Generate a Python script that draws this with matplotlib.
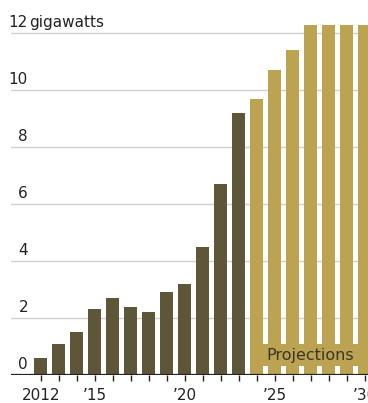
import matplotlib
matplotlib.use('Agg')
import numpy as np
import matplotlib.pyplot as plt
import matplotlib.transforms as mtransforms

plt.rcParams['font.family'] = ['Liberation Sans Narrow', 'DejaVu Sans']

# data
actual_years = [2012, 2013, 2014, 2015, 2016, 2017, 2018, 2019, 2020, 2021, 2022, 2023]
actual_vals = [0.6, 1.1, 1.5, 2.3, 2.7, 2.4, 2.2, 2.9, 3.2, 4.5, 6.7, 9.2]
proj_years = [2024, 2025, 2026, 2027, 2028, 2029, 2030]
proj_vals = [9.7, 10.7, 11.4, 12.3, 12.3, 12.3, 12.3]
y_ticks = [0, 2, 4, 6, 8, 10, 12]
x_ticks = [2012, 2015, 2020, 2025, 2030]
x_labels = ['2012', '\u201915', '\u201920', '\u201925', '\u201930']

dark = '#5e5639'
gold = '#bba352'

fig = plt.figure(figsize=(3.68, 4.03), dpi=100, facecolor='white')
ax = fig.add_axes([11 / 368, 28 / 403, 357 / 368, 375 / 403])
ax.set_xlim(2010.35, 2030.18)
ax.set_ylim(0, 13.16)

for y in y_ticks[1:]:
    ax.axhline(y, color='#cfcfcf', lw=1, zorder=0)

bw = 0.72
ax.bar(actual_years, actual_vals, width=bw, color=dark, zorder=2)
ax.bar(proj_years, proj_vals, width=bw, color=gold, zorder=2)

# shaded band behind the "Projections" label
x0 = proj_years[0] - bw / 2
ax.add_patch(plt.Rectangle((x0, 0.3), 2031 - x0, 0.8, color=gold, zorder=2, lw=0))
ax.text((x0 + 2030.18) / 2 + 0.05, 0.7, 'Projections', ha='center', va='center',
        fontsize=11.5, color='#3a3524', zorder=3)

ax.axhline(0, color='#222222', lw=1.6, zorder=4)

# y labels sitting above gridlines
off = mtransforms.offset_copy(ax.transData, fig=fig, x=0, y=3, units='dots')
lab_x = (28 - 11) / 357
blend = mtransforms.blended_transform_factory(ax.transAxes, off)
for y in y_ticks:
    ax.text(lab_x, y, str(y), transform=blend, ha='right', va='bottom',
            fontsize=11, color='#222222')
ax.text(lab_x + 0.003, 12, 'gigawatts', transform=blend, ha='left', va='bottom',
        fontsize=11, color='#222222')

ax.set_yticks([])
ax.set_xticks(x_ticks)
ax.set_xticklabels(x_labels, fontsize=11, color='#222222')
ax.set_xticks(list(range(2012, 2031)), minor=True)
ax.tick_params(axis='x', which='both', length=4, width=1, color='#222222', pad=5)
for s in ax.spines.values():
    s.set_visible(False)

fig.savefig('out.png', dpi=100)
